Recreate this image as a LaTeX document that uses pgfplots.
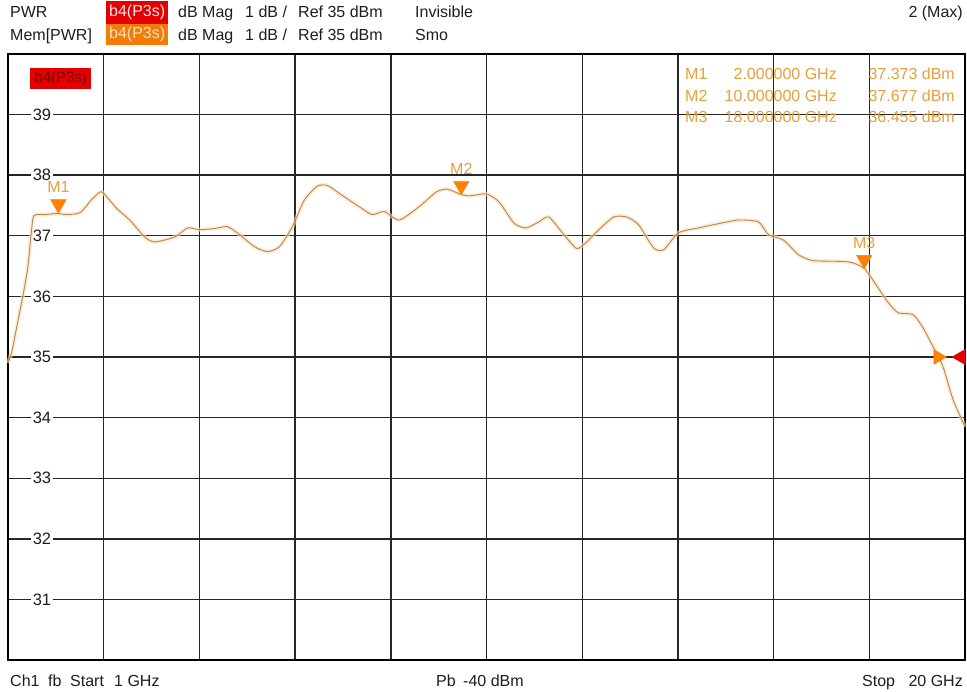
\documentclass[border=0pt]{standalone}
\usepackage{fontspec}
\setmainfont{Liberation Sans}
\usepackage{pgfplots}
\usepackage{pgfplotstable}
\pgfplotsset{compat=1.18}
\definecolor{trace}{RGB}{180,135,85}
\definecolor{halo}{RGB}{255,222,180}
\definecolor{mkorange}{RGB}{255,128,0}
\definecolor{mktext}{RGB}{230,160,60}
\definecolor{hdrred}{RGB}{228,0,0}
\definecolor{hdrorange}{RGB}{240,125,10}
\definecolor{boxtext}{RGB}{120,0,0}
\definecolor{txt}{RGB}{30,30,30}

\pgfplotstableread{
f y
1.000 34.90
1.079 35.10
1.198 35.60
1.317 36.10
1.396 36.50
1.456 37.00
1.515 37.33
1.733 37.35
2.000 37.37
2.129 37.35
2.426 37.38
2.664 37.60
2.823 37.72
2.902 37.70
3.159 37.45
3.417 37.26
3.714 36.98
3.912 36.90
4.309 36.98
4.566 37.13
4.804 37.10
5.101 37.12
5.359 37.15
5.596 37.02
5.894 36.82
6.151 36.74
6.389 36.82
6.646 37.15
6.884 37.59
7.142 37.82
7.340 37.83
7.578 37.70
7.974 37.48
8.231 37.35
8.469 37.40
8.766 37.26
9.162 37.48
9.499 37.72
9.717 37.77
10.000 37.68
10.152 37.66
10.351 37.68
10.509 37.69
10.748 37.56
11.045 37.21
11.283 37.13
11.540 37.23
11.738 37.31
12.035 37.02
12.293 36.79
12.491 36.90
12.729 37.10
13.026 37.31
13.283 37.31
13.521 37.18
13.818 36.80
14.016 36.77
14.314 37.05
14.710 37.13
15.106 37.20
15.502 37.26
15.899 37.23
16.097 37.02
16.394 36.93
16.691 36.69
16.988 36.59
17.682 36.57
18.000 36.46
18.276 36.14
18.474 35.90
18.672 35.73
18.969 35.70
19.167 35.48
19.365 35.17
19.563 34.84
19.761 34.30
20.000 33.85
}\tracedata

\begin{document}
\begin{tikzpicture}[font=\fontsize{16}{18}\selectfont]
\useasboundingbox (0pt,0pt) rectangle (967pt,-692pt);
\fill[white] (0pt,0pt) rectangle (967pt,-692pt);

% header row 1
\node[anchor=base west,text=txt,inner sep=0] at (10pt,-18pt) {PWR};
\node[fill=hdrred,text=white!90!red,anchor=north west,minimum width=62pt,minimum height=23pt,inner sep=0] at (106pt,-1pt) {b4(P3s)};
\node[anchor=base west,text=txt,inner sep=0] at (178pt,-18pt) {dB Mag};
\node[anchor=base west,text=txt,inner sep=0] at (245pt,-18pt) {1 dB /};
\node[anchor=base west,text=txt,inner sep=0] at (298pt,-18pt) {Ref 35 dBm};
\node[anchor=base west,text=txt,inner sep=0] at (415pt,-18pt) {Invisible};
\node[anchor=base east,text=txt,inner sep=0] at (963pt,-18pt) {2 (Max)};
% header row 2
\node[anchor=base west,text=txt,inner sep=0] at (10pt,-41pt) {Mem[PWR]};
\node[fill=hdrorange,text=white!75!orange,anchor=north west,minimum width=62pt,minimum height=21pt,inner sep=0] at (106pt,-24pt) {b4(P3s)};
\node[anchor=base west,text=txt,inner sep=0] at (178pt,-41pt) {dB Mag};
\node[anchor=base west,text=txt,inner sep=0] at (245pt,-41pt) {1 dB /};
\node[anchor=base west,text=txt,inner sep=0] at (298pt,-41pt) {Ref 35 dBm};
\node[anchor=base west,text=txt,inner sep=0] at (415pt,-41pt) {Smo};

% footer
\node[anchor=base west,text=txt,inner sep=0] at (10pt,-686pt) {Ch1};
\node[anchor=base west,text=txt,inner sep=0] at (48pt,-686pt) {fb};
\node[anchor=base west,text=txt,inner sep=0] at (70pt,-686pt) {Start};
\node[anchor=base west,text=txt,inner sep=0] at (114pt,-686pt) {1 GHz};
\node[anchor=base west,text=txt,inner sep=0] at (436pt,-686pt) {Pb};
\node[anchor=base west,text=txt,inner sep=0] at (463pt,-686pt) {-40 dBm};
\node[anchor=base west,text=txt,inner sep=0] at (862pt,-686pt) {Stop};
\node[anchor=base east,text=txt,inner sep=0] at (963pt,-686pt) {20 GHz};

\begin{axis}[
  at={(8pt,-660pt)}, anchor=south west,
  scale only axis, width=957pt, height=606pt,
  xmin=1, xmax=20, ymin=30, ymax=40,
  xtick={2.9,4.8,6.7,8.6,10.5,12.4,14.3,16.2,18.1},
  xticklabels={},
  ytick={31,32,33,34,35,36,37,38,39},
  grid=major,
  grid style={black!85, line width=1.4pt},
  axis line style={black, line width=1.6pt},
  major tick length=0pt,
  yticklabel style={anchor=center, xshift=34pt, fill=white, inner sep=1.5pt, text=txt, font=\fontsize{16.5}{18}\selectfont},
  /pgf/number format/assume math mode=true,
  clip=false,
]
\addplot[halo, line width=4pt, opacity=0.6, smooth, tension=0.4] table[x=f,y=y] {\tracedata};
\addplot[trace, line width=0.9pt, smooth, tension=0.4] table[x=f,y=y] {\tracedata};

\addplot[only marks, mark=triangle*, mark size=9pt, color=mkorange,
  mark options={yshift=9pt, rotate=180},
  point meta=explicit symbolic, nodes near coords,
  every node near coord/.append style={anchor=south, inner sep=0pt, yshift=11pt, text=mktext, font=\fontsize{16}{18}\selectfont}]
  coordinates {(2,37.373)[M1] (10,37.677)[M2] (18,36.455)[M3]};

\addplot[only marks, mark=triangle*, mark size=8.5pt, color=mkorange, mark options={rotate=-90}]
  coordinates {(19.465,35)};
\addplot[only marks, mark=triangle*, mark size=9pt, color=hdrred, mark options={xshift=-4pt, rotate=90}]
  coordinates {(20,35)};
\end{axis}

% trace label box
\node[fill=hdrred,text=boxtext,anchor=north west,minimum width=61pt,minimum height=21pt,inner sep=0,font=\fontsize{15}{17}\selectfont] at (30pt,-68pt) {b4(P3s)};

% marker table
\begin{scope}[every node/.style={text=mktext,inner sep=0}]
\node[anchor=base west] at (685pt,-80pt) {M1};
\node[anchor=base east] at (837pt,-80pt) {2.000000 GHz};
\node[anchor=base east] at (955pt,-80pt) {37.373 dBm};
\node[anchor=base west] at (685pt,-102pt) {M2};
\node[anchor=base east] at (837pt,-102pt) {10.000000 GHz};
\node[anchor=base east] at (955pt,-102pt) {37.677 dBm};
\node[anchor=base west] at (685pt,-123pt) {M3};
\node[anchor=base east] at (837pt,-123pt) {18.000000 GHz};
\node[anchor=base east] at (955pt,-123pt) {36.455 dBm};
\end{scope}
\end{tikzpicture}
\end{document}
